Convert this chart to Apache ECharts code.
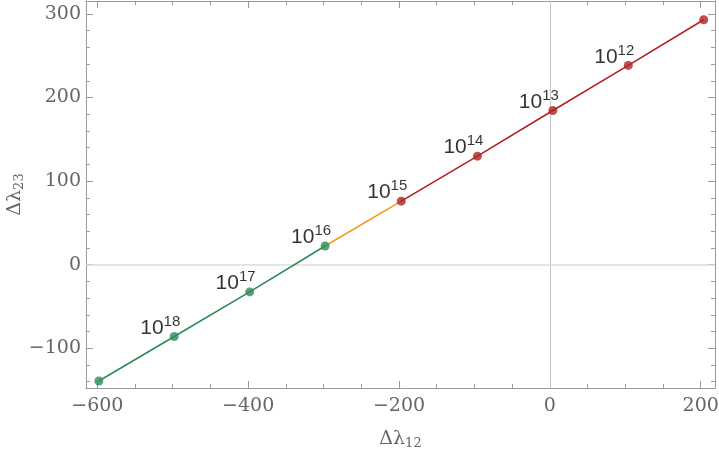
<!DOCTYPE html>
<html>
<head>
<meta charset="utf-8">
<script src="https://cdn.jsdelivr.net/npm/echarts@6/dist/echarts.min.js"></script>
<style>html,body{margin:0;padding:0;background:#fff}#c{width:719px;height:451px}</style>
</head>
<body>
<div id="c"></div>
<script>
// Data
var xs = [-598, -498, -398, -298, -197, -96, 4, 104, 204];
var ys = [-139.2, -86, -32.6, 22.3, 76, 129.8, 184.4, 238.4, 293];
var exponents = ['', '18', '17', '16', '15', '14', '13', '12', ''];
var pointGroup = ['g', 'g', 'g', 'g', 'r', 'r', 'r', 'r', 'r'];
var greenIdx = [0, 1, 2, 3];
var orangeIdx = [3, 4];
var redIdx = [4, 5, 6, 7, 8];
var xMajor = [-600, -400, -200, 0, 200];
var xMinor = [-550, -500, -450, -350, -300, -250, -150, -100, -50, 50, 100, 150];
var yMajor = [-100, 0, 100, 200, 300];
var yMinor = [-140, -120, -80, -60, -40, -20, 20, 40, 60, 80, 120, 140, 160, 180, 220, 240, 260, 280];
var xRange = [-615, 219];
var yRange = [-147.6, 315.5];

var GREEN = '#2e8b57', ORANGE = '#f7991c', RED = '#b22222';
var FRAME = '#9a9a9a', TXT = '#666666';
var SERIF = '"DejaVu Serif", serif';
var SANS = '"Liberation Sans", Arial, sans-serif';

function fmt(v) { return v < 0 ? '\u2212' + (-v) : '' + v; }
function pts(idx) { return idx.map(function (i) { return [xs[i], ys[i]]; }); }

function mkX(pos, vals, len, showLabel, showLine, extra) {
  var a = {
    type: 'value', position: pos, min: xRange[0], max: xRange[1],
    axisLine: { show: showLine, onZero: false, lineStyle: { color: FRAME, width: 1 } },
    axisTick: { show: true, inside: true, length: len, customValues: vals, lineStyle: { color: FRAME, width: 1 } },
    axisLabel: showLabel ? { show: true, customValues: vals, formatter: fmt, color: TXT, fontFamily: SERIF, fontSize: 19, margin: 9 } : { show: false },
    splitLine: { show: false }
  };
  if (extra) for (var k in extra) a[k] = extra[k];
  return a;
}
function mkY(pos, vals, len, showLabel, showLine, extra) {
  var a = {
    type: 'value', position: pos, min: yRange[0], max: yRange[1],
    axisLine: { show: showLine, onZero: false, lineStyle: { color: FRAME, width: 1 } },
    axisTick: { show: true, inside: true, length: len, customValues: vals, lineStyle: { color: FRAME, width: 1 } },
    axisLabel: showLabel ? { show: true, customValues: vals, formatter: fmt, color: TXT, fontFamily: SERIF, fontSize: 19, margin: 5 } : { show: false },
    splitLine: { show: false }
  };
  if (extra) for (var k in extra) a[k] = extra[k];
  return a;
}

var nameRich = {
  m: { fontSize: 19, fontFamily: SERIF, color: TXT, lineHeight: 22 },
  s: { fontSize: 13, fontFamily: SERIF, color: TXT, lineHeight: 13, verticalAlign: 'bottom' }
};

var chart = echarts.init(document.getElementById('c'), null, { renderer: 'canvas' });
chart.setOption({
  animation: false,
  backgroundColor: '#fff',
  grid: { left: 86, right: 4, top: 1, bottom: 63, containLabel: false, outerBoundsMode: 'none' },
  xAxis: [
    mkX('bottom', xMajor, 7, true, true, {
      name: '{m|\u0394\u03bb}{s|12}', nameLocation: 'middle', nameGap: 40, nameMoveOverlap: false,
      nameTextStyle: { color: TXT, fontFamily: SERIF, rich: nameRich }
    }),
    mkX('bottom', xMinor, 4, false, false),
    mkX('top', xMajor, 7, false, true),
    mkX('top', xMinor, 4, false, false)
  ],
  yAxis: [
    mkY('left', yMajor, 7, true, true, {
      name: '{m|\u0394\u03bb}{s|23}', nameLocation: 'middle', nameGap: 60, nameRotate: 90, nameMoveOverlap: false,
      nameTextStyle: { color: TXT, fontFamily: SERIF, rich: nameRich }
    }),
    mkY('left', yMinor, 4, false, false),
    mkY('right', yMajor, 7, false, true),
    mkY('right', yMinor, 4, false, false)
  ],
  series: [
    {
      type: 'line', data: pts([0]), showSymbol: false, silent: true, z: 1,
      lineStyle: { opacity: 0 },
      markLine: {
        silent: true, symbol: 'none', label: { show: false }, animation: false, z: 1,
        data: [
          { xAxis: 0, lineStyle: { color: '#c4c4c4', width: 1, type: 'solid' } },
          { yAxis: 0, lineStyle: { color: '#dcdcdc', width: 1.5, type: 'solid' } }
        ]
      }
    },
    { type: 'line', data: pts(greenIdx), showSymbol: false, silent: true, z: 3, lineStyle: { color: GREEN, width: 1.6 } },
    { type: 'line', data: pts(orangeIdx), showSymbol: false, silent: true, z: 3, lineStyle: { color: ORANGE, width: 1.6 } },
    { type: 'line', data: pts(redIdx), showSymbol: false, silent: true, z: 3, lineStyle: { color: RED, width: 1.6 } },
    {
      type: 'scatter', z: 5, symbolSize: 9,
      data: xs.map(function (x, i) {
        return { value: [x, ys[i]], name: exponents[i], itemStyle: { color: pointGroup[i] === 'g' ? GREEN : RED } };
      }),
      label: {
        show: true, position: [10.5, 10], align: 'right', verticalAlign: 'bottom',
        formatter: function (p) { return p.name ? '{b|10}{s|' + p.name + '}' : ''; },
        rich: {
          b: { fontSize: 21, fontFamily: SANS, color: '#000', lineHeight: 28 },
          s: { fontSize: 15, fontFamily: SANS, color: '#000', lineHeight: 12, verticalAlign: 'top' }
        }
      }
    }
  ]
});
</script>
</body>
</html>
